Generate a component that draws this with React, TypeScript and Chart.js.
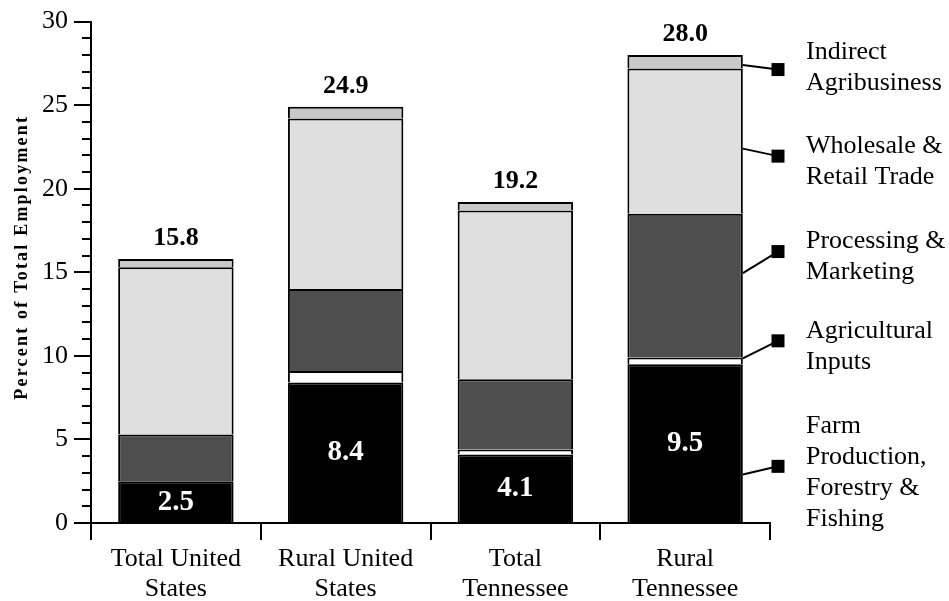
import { useEffect, useRef } from "react";
import { Chart, registerables, ChartConfiguration, Plugin } from "chart.js";

Chart.register(...registerables);

const FONT = "'Liberation Serif', 'Times New Roman', serif";

const CATEGORIES = [
  ["Total United", "States"],
  ["Rural United", "States"],
  ["Total", "Tennessee"],
  ["Rural", "Tennessee"],
];

const SERIES_NAMES = [
  "Farm Production, Forestry & Fishing",
  "Agricultural Inputs",
  "Processing & Marketing",
  "Wholesale & Retail Trade",
  "Indirect Agribusiness",
];

const FARM = [2.5, 8.4, 4.1, 9.5];
const INPUTS = [0.0, 0.7, 0.3, 0.4];
const PROCESSING = [2.8, 4.9, 4.2, 8.6];
const WHOLESALE = [10.0, 10.2, 10.1, 8.7];
const INDIRECT = [0.5, 0.7, 0.5, 0.8];
const TOTALS = [15.8, 24.9, 19.2, 28.0];

const SERIES_COLORS = ["#000000", "#ffffff", "#4e4e4e", "#dfdfdf", "#c9c9c9"];

const Y_TICKS = [0, 5, 10, 15, 20, 25, 30];

// legend, top to bottom: text lines, where the leader leaves bar 4, where the marker sits
const LEGEND_LINES = [
  ["Indirect", "Agribusiness"],
  ["Wholesale &", "Retail Trade"],
  ["Processing &", "Marketing"],
  ["Agricultural", "Inputs"],
  ["Farm", "Production,", "Forestry &", "Fishing"],
];
const LEGEND_FROM = [27.4, 22.4, 14.95, 9.85, 2.9];
const LEGEND_MARK = [27.13, 21.95, 16.24, 10.9, 3.39];
const LEGEND_TEXT_MID = [27.22, 21.62, 15.91, 10.53, 3.03];

const annotate: Plugin<"bar"> = {
  id: "annotate",
  afterDraw(chart) {
    const { ctx, chartArea } = chart;
    const y = chart.scales.y;
    ctx.save();

    // minor ticks on the y axis
    ctx.strokeStyle = "#000";
    ctx.lineWidth = 2;
    for (let v = 1; v < 30; v++) {
      if (v % 5 === 0) continue;
      const py = Math.round(y.getPixelForValue(v));
      ctx.beginPath();
      ctx.moveTo(chartArea.left - 9, py);
      ctx.lineTo(chartArea.left, py);
      ctx.stroke();
    }

    // y axis title
    ctx.save();
    ctx.translate(22, y.getPixelForValue(15.9));
    ctx.rotate(-Math.PI / 2);
    ctx.font = `bold 18px ${FONT}`;
    (ctx as any).letterSpacing = "2.2px";
    ctx.fillStyle = "#000";
    ctx.textAlign = "center";
    ctx.textBaseline = "middle";
    ctx.fillText("Percent of Total Employment", 0, 0);
    ctx.restore();

    // totals above bars and farm values inside
    const farmMeta = chart.getDatasetMeta(0);
    ctx.textAlign = "center";
    ctx.textBaseline = "middle";
    TOTALS.forEach((t, i) => {
      const bar: any = farmMeta.data[i];
      ctx.fillStyle = "#000";
      ctx.font = `bold 26px ${FONT}`;
      ctx.fillText(t.toFixed(1), bar.x, y.getPixelForValue(t) - 21);
      ctx.fillStyle = "#fff";
      ctx.font = `bold 29px ${FONT}`;
      ctx.fillText(FARM[i].toFixed(1), bar.x, y.getPixelForValue(FARM[i] / 2));
    });

    // legend with leader lines from the last bar
    const last: any = farmMeta.data[farmMeta.data.length - 1];
    const barRight = last.x + last.width / 2;
    const markX = chartArea.right + 8;
    const textX = chartArea.right + 36;
    const lineH = 31;
    LEGEND_LINES.forEach((lines, i) => {
      const my = y.getPixelForValue(LEGEND_MARK[i]);
      ctx.strokeStyle = "#000";
      ctx.lineWidth = 2;
      ctx.beginPath();
      ctx.moveTo(barRight, y.getPixelForValue(LEGEND_FROM[i]));
      ctx.lineTo(markX, my);
      ctx.stroke();
      ctx.fillStyle = "#000";
      ctx.fillRect(markX - 6.5, my - 6.5, 13, 13);

      ctx.font = `26px ${FONT}`;
      ctx.textAlign = "left";
      ctx.textBaseline = "middle";
      const mid = y.getPixelForValue(LEGEND_TEXT_MID[i]);
      const top = mid - ((lines.length - 1) * lineH) / 2;
      lines.forEach((l, k) => ctx.fillText(l, textX, top + k * lineH));
    });

    ctx.restore();
  },
};

export default function App() {
  const canvasRef = useRef<HTMLCanvasElement>(null);
  const chartRef = useRef<Chart | null>(null);

  useEffect(() => {
    if (!canvasRef.current) return;
    Chart.defaults.font.family = FONT;
    Chart.defaults.color = "#000";

    const values = [FARM, INPUTS, PROCESSING, WHOLESALE, INDIRECT];

    const config: ChartConfiguration<"bar"> = {
      type: "bar",
      data: {
        labels: CATEGORIES,
        datasets: values.map((data, i) => ({
          label: SERIES_NAMES[i],
          data,
          backgroundColor: SERIES_COLORS[i],
          borderColor: "#000",
          borderWidth: 2,
          barPercentage: 0.68,
          categoryPercentage: 1,
        })),
      },
      options: {
        animation: false,
        responsive: true,
        maintainAspectRatio: false,
        layout: { padding: { top: 18, right: 179, bottom: 0, left: 0 } },
        plugins: {
          legend: { display: false },
          tooltip: { enabled: false },
        },
        scales: {
          x: {
            stacked: true,
            afterFit: (s) => {
              s.height = 78;
            },
            border: { display: true, color: "#000", width: 2 },
            grid: {
              offset: true,
              drawOnChartArea: false,
              drawTicks: true,
              tickLength: 17,
              color: "#000",
              lineWidth: 2,
            },
            ticks: {
              color: "#000",
              padding: 4,
              font: { size: 26, lineHeight: 1.15 },
            },
          },
          y: {
            stacked: true,
            min: 0,
            max: 30,
            afterFit: (s) => {
              s.width = 91;
            },
            afterBuildTicks: (s) => {
              s.ticks = Y_TICKS.map((v) => ({ value: v }));
            },
            border: { display: true, color: "#000", width: 2 },
            grid: {
              drawOnChartArea: false,
              drawTicks: true,
              tickLength: 17,
              color: "#000",
              lineWidth: 2,
            },
            ticks: {
              color: "#000",
              padding: 6,
              font: { size: 26 },
            },
          },
        },
      },
      plugins: [annotate],
    };

    chartRef.current = new Chart(canvasRef.current, config);
    return () => {
      chartRef.current?.destroy();
      chartRef.current = null;
    };
  }, []);

  return (
    <div
      style={{
        position: "fixed",
        left: 0,
        top: 0,
        width: 949,
        height: 601,
        background: "#fff",
      }}
    >
      <canvas ref={canvasRef} />
    </div>
  );
}
